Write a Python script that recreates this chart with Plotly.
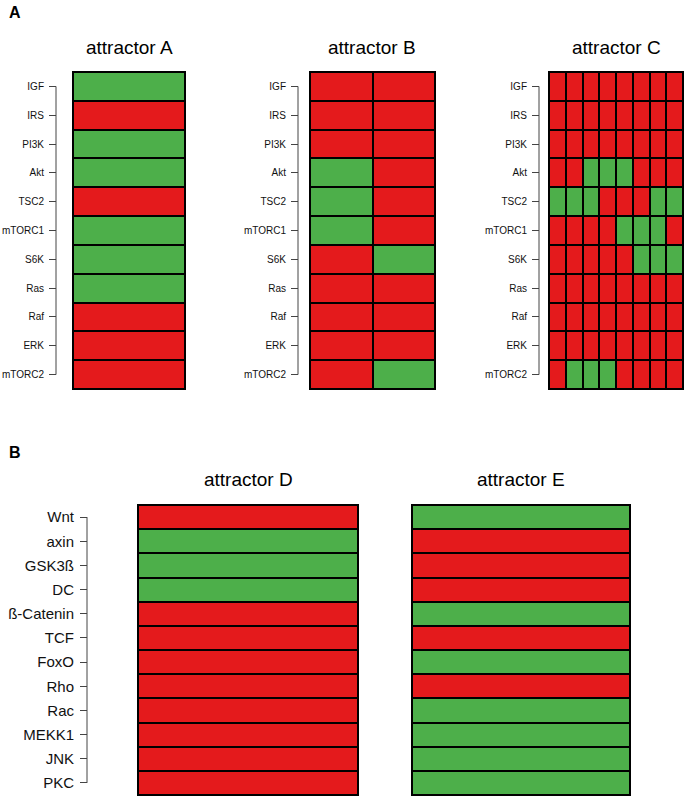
import plotly.graph_objects as go

W, H = 687, 799

# ---------------- data ----------------
genes_top = ["IGF", "IRS", "PI3K", "Akt", "TSC2", "mTORC1", "S6K", "Ras", "Raf", "ERK", "mTORC2"]
# 1 = green, 0 = red
attractor_A = [[1], [0], [1], [1], [0], [1], [1], [1], [0], [0], [0]]
attractor_B = [[0, 0], [0, 0], [0, 0], [1, 0], [1, 0], [1, 0], [0, 1], [0, 0], [0, 0], [0, 0], [0, 1]]
attractor_C = [
    [0, 0, 0, 0, 0, 0, 0, 0],
    [0, 0, 0, 0, 0, 0, 0, 0],
    [0, 0, 0, 0, 0, 0, 0, 0],
    [0, 0, 1, 1, 1, 0, 0, 0],
    [1, 1, 1, 0, 0, 0, 1, 1],
    [0, 0, 0, 0, 1, 1, 1, 0],
    [0, 0, 0, 0, 0, 1, 1, 1],
    [0, 0, 0, 0, 0, 0, 0, 0],
    [0, 0, 0, 0, 0, 0, 0, 0],
    [0, 0, 0, 0, 0, 0, 0, 0],
    [0, 1, 1, 1, 0, 0, 0, 0],
]
genes_bottom = ["Wnt", "axin", "GSK3ß", "DC", "ß-Catenin", "TCF", "FoxO", "Rho", "Rac", "MEKK1", "JNK", "PKC"]
attractor_D = [[0], [1], [1], [1], [0], [0], [0], [0], [0], [0], [0], [0]]
attractor_E = [[1], [0], [0], [0], [1], [0], [1], [0], [1], [1], [1], [1]]

titles = ["attractor A", "attractor B", "attractor C", "attractor D", "attractor E"]

RED = "#E41A1C"
GREEN = "#4DAF4A"
FONT = "Liberation Sans, Arial, sans-serif"

def px(x):
    return x / W

def py(y):
    return 1 - y / H

# geometry in screen pixels: box x0, x1, y0, y1, bracket x, label font size, title y
panels = [
    (attractor_A, genes_top, 73, 185, 72, 389, 56, 10, 47),
    (attractor_B, genes_top, 310, 435, 72, 389, 298, 10, 47),
    (attractor_C, genes_top, 549, 683, 72, 389, 539, 10, 47),
    (attractor_D, genes_bottom, 138, 358, 505, 795, 87, 15, 479),
    (attractor_E, genes_bottom, 412, 630, 505, 795, 364, 15, 479),
]

fig = go.Figure()
shapes = []
annotations = []
for i, (z, genes, x0, x1, y0, y1, bx, fs, ty) in enumerate(panels):
    k = "" if i == 0 else str(i + 1)
    n = len(genes)
    m = len(z[0])
    fig.add_trace(go.Heatmap(
        z=z, x=list(range(m)), y=list(range(n)),
        colorscale=[[0, RED], [1, GREEN]], zmin=0, zmax=1,
        showscale=False, xgap=2, ygap=2, hoverinfo="skip",
        xaxis="x" + k, yaxis="y" + k,
    ))
    show_labels = i != 4
    fig.layout["xaxis" + k] = dict(
        domain=[px(x0), px(x1)], range=[-0.5, m - 0.5], anchor="y" + k,
        showticklabels=False, showgrid=False, zeroline=False, ticks="",
        fixedrange=True,
    )
    fig.layout["yaxis" + k] = dict(
        domain=[py(y1), py(y0)], range=[n - 0.5, -0.5],
        anchor="free", position=px(bx),
        tickvals=list(range(n)), ticktext=genes,
        ticks="outside" if show_labels else "", ticklen=7, tickwidth=1, tickcolor="#444",
        ticklabelstandoff=3,
        showticklabels=show_labels,
        tickfont=dict(family=FONT, size=fs, color="#111"),
        showgrid=False, zeroline=False, showline=False, fixedrange=True,
    )
    if show_labels:
        shapes.append(dict(type="line", xref="paper", yref="y" + k,
                           x0=px(bx), x1=px(bx), y0=0, y1=n - 1,
                           line=dict(color="#444", width=1)))
    shapes.append(dict(type="rect", xref=f"x{k} domain", yref=f"y{k} domain",
                       x0=0, x1=1, y0=0, y1=1, line=dict(color="black", width=2)))
    annotations.append(dict(text=titles[i], xref="paper", yref="paper",
                            x=px((x0 + x1) / 2), y=py(ty), showarrow=False,
                            xanchor="center", yanchor="middle",
                            font=dict(family=FONT, size=19, color="black")))

annotations.append(dict(text="<b>A</b>", xref="paper", yref="paper", x=px(7), y=py(12),
                        showarrow=False, xanchor="left", yanchor="middle",
                        font=dict(family=FONT, size=16, color="black")))
annotations.append(dict(text="<b>B</b>", xref="paper", yref="paper", x=px(7), y=py(452),
                        showarrow=False, xanchor="left", yanchor="middle",
                        font=dict(family=FONT, size=16, color="black")))

fig.update_layout(
    width=W, height=H, margin=dict(l=0, r=0, t=0, b=0),
    paper_bgcolor="white", plot_bgcolor="black",
    showlegend=False, shapes=shapes, annotations=annotations,
)

fig.write_html("out.html",
               config={"displayModeBar": False, "staticPlot": True},
               post_script="document.body.style.margin='0';document.body.style.overflow='hidden';")
